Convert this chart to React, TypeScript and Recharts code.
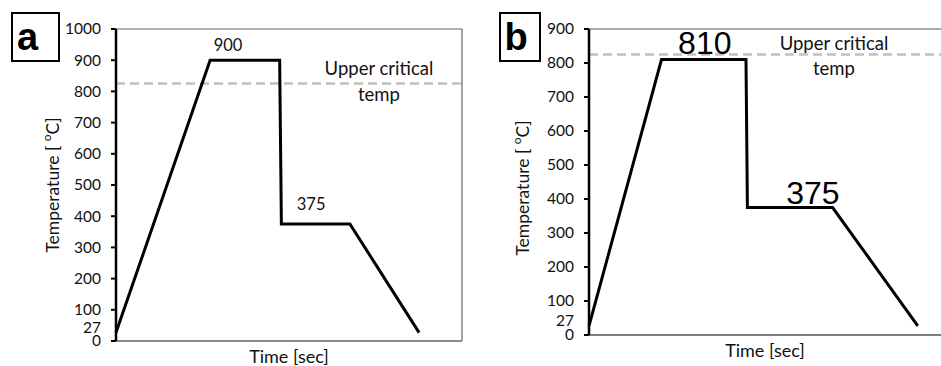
import React from 'react';
import {
  LineChart,
  Line,
  XAxis,
  YAxis,
  Label,
  ReferenceLine,
  ReferenceDot
} from 'recharts';

// Heat-treatment cycles: time (arbitrary units, 0-100) vs temperature in °C
const timeA = [0, 27.2, 47.3, 47.8, 67.6, 87.6];
const tempA = [27, 900, 900, 375, 375, 27];
const ticksA = [0, 27, 100, 200, 300, 400, 500, 600, 700, 800, 900, 1000];

const timeB = [0, 20.6, 44.6, 45.0, 69.2, 93.4];
const tempB = [27, 810, 810, 375, 375, 27];
const ticksB = [0, 27, 100, 200, 300, 400, 500, 600, 700, 800, 900];

const upperCritical = 825;
const timeDomain = [0, 100];

// where the annotations sit along the time axis
const labelTimeA = { austenitize: 32.4, hold: 56.4, critical: 76.0 };
const labelTimeB = { austenitize: 32.9, hold: 63.6, critical: 69.6 };

const FONT = 'Lato, "Open Sans", sans-serif';
const ARIAL = '"Liberation Sans", Arial, sans-serif';

const toRows = (times: number[], temps: number[]) =>
  times.map((t, i) => ({ time: t, temp: temps[i] }));

const profileA = toRows(timeA, tempA);
const profileB = toRows(timeB, tempB);

// y tick: label plus a short black tick mark (no mark for the 27 start value)
const TempTick = (props: any) => {
  const { x, y, payload } = props;
  const isStart = payload.value === 27;
  return (
    <g>
      {!isStart && (
        <line x1={x} x2={x + 5} y1={y} y2={y} stroke="#000" strokeWidth={2} />
      )}
      <text
        x={x - 10}
        y={isStart ? y - 5 : y}
        dy="0.35em"
        textAnchor="end"
        fontSize={15.5}
        fontFamily={FONT}
        fill="#111"
      >
        {payload.value}
      </text>
    </g>
  );
};

const YTitle = (props: any) => {
  const { viewBox, cx, shift } = props;
  const ty = viewBox.y + viewBox.height / 2 + (shift || 0);
  return (
    <text
      x={cx}
      y={ty}
      transform={`rotate(-90, ${cx}, ${ty})`}
      textAnchor="middle"
      dominantBaseline="central"
      fontSize={17.5}
      fontFamily={FONT}
      fill="#111"
    >
      Temperature [ <tspan dy={-6} fontSize={12}>o</tspan>
      <tspan dy={6}>C]</tspan>
    </text>
  );
};

const XTitle = (props: any) => {
  const { viewBox } = props;
  return (
    <text
      x={viewBox.x + viewBox.width / 2}
      y={viewBox.y + 15}
      textAnchor="middle"
      dominantBaseline="central"
      fontSize={18}
      fontFamily={FONT}
      fill="#111"
    >
      Time [sec]
    </text>
  );
};

const PanelTag = ({ letter, left, width }: { letter: string; left: number; width: number }) => (
  <div
    style={{
      position: 'absolute',
      left,
      top: 12,
      width: width - 4,
      height: 46,
      border: '2px solid #000',
      fontFamily: ARIAL,
      fontWeight: 'bold',
      fontSize: 38,
      lineHeight: '46px',
      textAlign: 'center',
      boxSizing: 'content-box'
    }}
  >
    <span style={{ position: 'relative', left: letter === 'a' ? -8 : -4 }}>{letter}</span>
  </div>
);

const criticalText = (value: string, position: 'top' | 'bottom', offset: number) => ({
  value,
  position,
  offset,
  fontSize: 18.5,
  fontFamily: FONT,
  fill: '#111'
});

export default function App() {
  return (
    <div
      style={{
        position: 'absolute',
        left: 0,
        top: 0,
        width: 941,
        height: 366,
        background: '#fff',
        overflow: 'hidden'
      }}
    >
      {/* (a) 900 °C austenitize, quench, 375 °C hold */}
      <div style={{ position: 'absolute', left: 0, top: 0 }}>
        <LineChart width={470} height={366} data={profileA} margin={{ top: 29, right: 8, bottom: 0, left: 0 }}>
          <XAxis
            dataKey="time"
            type="number"
            domain={timeDomain}
            tick={false}
            tickLine={false}
            height={25}
            axisLine={{ stroke: '#666', strokeWidth: 1.5 }}
          >
            <Label content={<XTitle />} />
          </XAxis>
          <YAxis
            type="number"
            domain={[0, 1000]}
            ticks={ticksA}
            interval={0}
            width={116}
            tickSize={5}
            tickMargin={0}
            tickLine={false}
            tick={<TempTick />}
            axisLine={{ stroke: '#000', strokeWidth: 2.5 }}
          >
            <Label content={<YTitle cx={52} shift={0} />} />
          </YAxis>
          <ReferenceLine y={1000} stroke="#666" strokeWidth={1.2} />
          <ReferenceLine x={100} stroke="#666" strokeWidth={1.2} />
          <ReferenceLine y={upperCritical} stroke="#c0c0c0" strokeWidth={2.5} strokeDasharray="9 5" />
          <Line
            type="linear"
            dataKey="temp"
            stroke="#000"
            strokeWidth={3}
            strokeLinejoin="miter"
            dot={false}
            isAnimationActive={false}
          />
          <ReferenceDot
            x={labelTimeA.austenitize}
            y={tempA[1]}
            r={0}
            fill="none"
            stroke="none"
            label={{ value: String(tempA[1]), position: 'top', offset: 9, fontSize: 16.5, fontFamily: FONT, fill: '#111' }}
          />
          <ReferenceDot
            x={labelTimeA.hold}
            y={tempA[3]}
            r={0}
            fill="none"
            stroke="none"
            label={{ value: String(tempA[3]), position: 'top', offset: 14, fontSize: 16.5, fontFamily: FONT, fill: '#111' }}
          />
          <ReferenceDot
            x={labelTimeA.critical}
            y={upperCritical}
            r={0}
            fill="none"
            stroke="none"
            label={criticalText('Upper critical', 'top', 9)}
          />
          <ReferenceDot
            x={labelTimeA.critical}
            y={upperCritical}
            r={0}
            fill="none"
            stroke="none"
            label={criticalText('temp', 'bottom', 4)}
          />
        </LineChart>
      </div>

      {/* (b) 810 °C intercritical, quench, 375 °C hold */}
      <div style={{ position: 'absolute', left: 470, top: 0 }}>
        <LineChart width={471} height={366} data={profileB} margin={{ top: 29, right: 0, bottom: 0, left: 0 }}>
          <XAxis
            dataKey="time"
            type="number"
            domain={timeDomain}
            tick={false}
            tickLine={false}
            height={31}
            axisLine={{ stroke: '#555', strokeWidth: 1.5 }}
          >
            <Label content={<XTitle />} />
          </XAxis>
          <YAxis
            type="number"
            domain={[0, 900]}
            ticks={ticksB}
            interval={0}
            width={119}
            tickSize={5}
            tickMargin={0}
            tickLine={false}
            tick={<TempTick />}
            axisLine={{ stroke: '#000', strokeWidth: 2.5 }}
          >
            <Label content={<YTitle cx={52} shift={6} />} />
          </YAxis>
          <ReferenceLine y={900} stroke="#555" strokeWidth={1.2} />
          <ReferenceLine y={upperCritical} stroke="#c0c0c0" strokeWidth={2.5} strokeDasharray="9 5" />
          <Line
            type="linear"
            dataKey="temp"
            stroke="#000"
            strokeWidth={3}
            strokeLinejoin="miter"
            dot={false}
            isAnimationActive={false}
          />
          <ReferenceDot
            x={labelTimeB.austenitize}
            y={tempB[1]}
            r={0}
            fill="none"
            stroke="none"
            label={{ value: String(tempB[1]), position: 'top', offset: 6, fontSize: 32, fontFamily: ARIAL, fill: '#000' }}
          />
          <ReferenceDot
            x={labelTimeB.hold}
            y={tempB[3]}
            r={0}
            fill="none"
            stroke="none"
            label={{ value: String(tempB[3]), position: 'top', offset: 4, fontSize: 32, fontFamily: ARIAL, fill: '#000' }}
          />
          <ReferenceDot
            x={labelTimeB.critical}
            y={upperCritical}
            r={0}
            fill="none"
            stroke="none"
            label={criticalText('Upper critical', 'top', 5)}
          />
          <ReferenceDot
            x={labelTimeB.critical}
            y={upperCritical}
            r={0}
            fill="none"
            stroke="none"
            label={criticalText('temp', 'bottom', 7)}
          />
        </LineChart>
      </div>

      <PanelTag letter="a" left={11} width={49} />
      <PanelTag letter="b" left={499} width={42} />
    </div>
  );
}
